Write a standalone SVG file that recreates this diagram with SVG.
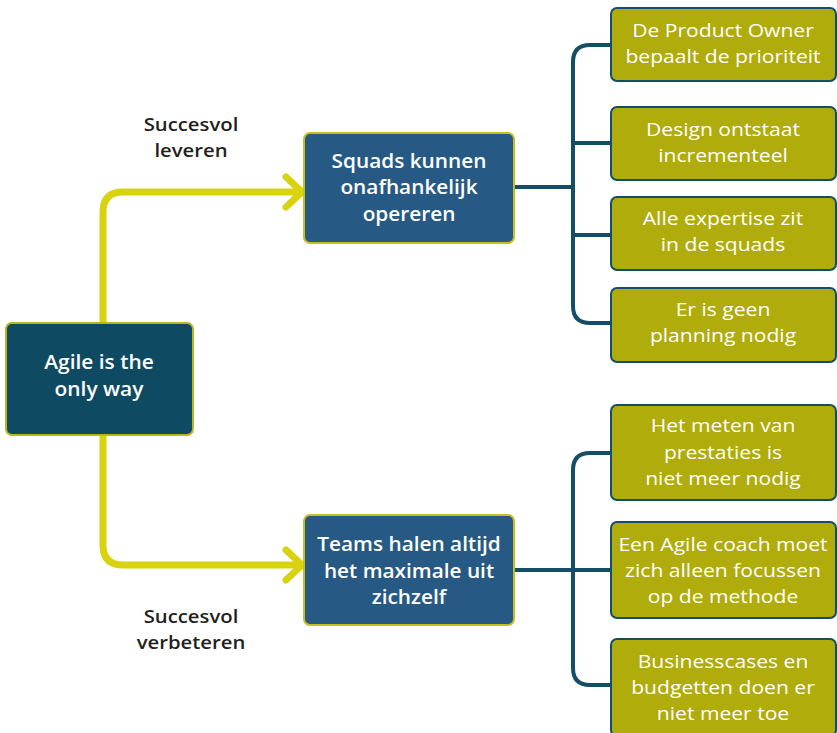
<svg xmlns="http://www.w3.org/2000/svg" width="837" height="733" viewBox="0 0 837 733">
<style>
.root{fill:#0e4b62;stroke:#b9b61c;stroke-width:2}
.mid{fill:#265a85;stroke:#c4c11c;stroke-width:2}
.leaf{fill:#afac0c;stroke:#134e66;stroke-width:2}
.t{font-family:"Open Sans","Liberation Sans",sans-serif;fill:#fff;text-anchor:middle}
.tb{font-weight:600;font-size:19px}
.tl{font-weight:400;font-size:19px}
.lab{font-family:"Open Sans","Liberation Sans",sans-serif;font-weight:600;font-size:18.5px;fill:#231f20;text-anchor:middle}
.y{fill:none;stroke:#d8d30e;stroke-width:7;stroke-linecap:round;stroke-linejoin:round}
.b{fill:none;stroke:#134e66;stroke-width:4}
</style>
<g id="connectors">
<path class="y" d="M103 323 V212 Q103 192 123 192 H300"/>
<path class="y" d="M286 177 L302 192 L286 207"/>
<path class="y" d="M103 435 V545 Q103 565 123 565 H300"/>
<path class="y" d="M286 550 L302 565 L286 580"/>
<path class="b" d="M514 187 H573"/>
<path class="b" d="M611 45 H590 Q573 45 573 62 V306 Q573 323 590 323 H611"/>
<path class="b" d="M573 143 H611 M573 235 H611"/>
<path class="b" d="M514 570 H611"/>
<path class="b" d="M611 453 H590 Q573 453 573 470 V668 Q573 685 590 685 H611"/>
</g>
<g id="root">
<rect class="root" x="6" y="323" width="187" height="112" rx="6"/>
<g transform="translate(99 0) scale(1.1 1)">
<text class="t tb" x="0" y="369">Agile is the</text>
<text class="t tb" x="0" y="396">only way</text>
</g>
</g>
<g id="label-leveren" transform="translate(191 0) scale(1.097 1)">
<text class="lab" x="0" y="131">Succesvol</text>
<text class="lab" x="0" y="157">leveren</text>
</g>
<g id="label-verbeteren" transform="translate(191 0) scale(1.097 1)">
<text class="lab" x="0" y="623">Succesvol</text>
<text class="lab" x="0" y="649">verbeteren</text>
</g>
<g id="squads">
<rect class="mid" x="304" y="133" width="210" height="110" rx="6"/>
<g transform="translate(409 0) scale(1.095 1)">
<text class="t tb" x="0" y="168">Squads kunnen</text>
<text class="t tb" x="0" y="194">onafhankelijk</text>
<text class="t tb" x="0" y="221">opereren</text>
</g>
</g>
<g id="teams">
<rect class="mid" x="304" y="515" width="210" height="110" rx="6"/>
<g transform="translate(409 0) scale(1.095 1)">
<text class="t tb" x="0" y="551">Teams halen altijd</text>
<text class="t tb" x="0" y="578">het maximale uit</text>
<text class="t tb" x="0" y="604">zichzelf</text>
</g>
</g>
<g id="leaf1">
<rect class="leaf" x="611" y="8" width="225" height="73" rx="6"/>
<g transform="translate(723 0) scale(1.11 1)">
<text class="t tl" x="0" y="37">De Product Owner</text>
<text class="t tl" x="0" y="63">bepaalt de prioriteit</text>
</g>
</g>
<g id="leaf2">
<rect class="leaf" x="611" y="107" width="225" height="73" rx="6"/>
<g transform="translate(723 0) scale(1.11 1)">
<text class="t tl" x="0" y="136">Design ontstaat</text>
<text class="t tl" x="0" y="162">incrementeel</text>
</g>
</g>
<g id="leaf3">
<rect class="leaf" x="611" y="197" width="225" height="73" rx="6"/>
<g transform="translate(723 0) scale(1.11 1)">
<text class="t tl" x="0" y="225">Alle expertise zit</text>
<text class="t tl" x="0" y="251">in de squads</text>
</g>
</g>
<g id="leaf4">
<rect class="leaf" x="611" y="288" width="225" height="74" rx="6"/>
<g transform="translate(723 0) scale(1.11 1)">
<text class="t tl" x="0" y="316">Er is geen</text>
<text class="t tl" x="0" y="342">planning nodig</text>
</g>
</g>
<g id="leaf5">
<rect class="leaf" x="611" y="405" width="225" height="95" rx="6"/>
<g transform="translate(723 0) scale(1.11 1)">
<text class="t tl" x="0" y="432">Het meten van</text>
<text class="t tl" x="0" y="459">prestaties is</text>
<text class="t tl" x="0" y="485">niet meer nodig</text>
</g>
</g>
<g id="leaf6">
<rect class="leaf" x="611" y="522" width="225" height="96" rx="6"/>
<g transform="translate(723 0) scale(1.11 1)">
<text class="t tl" x="0" y="551">Een Agile coach moet</text>
<text class="t tl" x="0" y="577">zich alleen focussen</text>
<text class="t tl" x="0" y="603">op de methode</text>
</g>
</g>
<g id="leaf7">
<rect class="leaf" x="611" y="639" width="225" height="97" rx="6"/>
<g transform="translate(723 0) scale(1.11 1)">
<text class="t tl" x="0" y="668">Businesscases en</text>
<text class="t tl" x="0" y="694">budgetten doen er</text>
<text class="t tl" x="0" y="720">niet meer toe</text>
</g>
</g>
</svg>
